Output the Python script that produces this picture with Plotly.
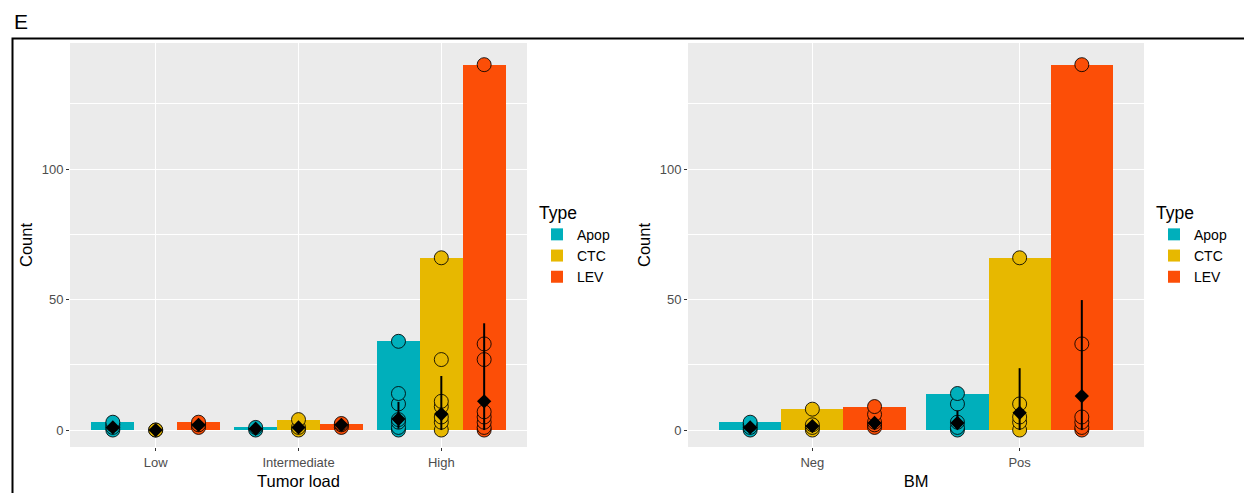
import plotly.graph_objects as go

# ---------------- data ----------------
types = ["Apop", "CTC", "LEV"]
colors = {"Apop": "#00AFBB", "CTC": "#E7B800", "LEV": "#FC4E07"}

# Panel 1: Tumor load
tl_categories = ["Low", "Intermediate", "High"]
tl_bar_apop = [3, 1, 34]
tl_bar_ctc = [0, 4, 66]
tl_bar_lev = [3, 2.5, 140]
tl_pts_apop = [[0, 1, 2, 3], [0, 1], [0, 1, 3, 4, 10, 14, 34]]
tl_pts_ctc = [[0, 0], [0, 1, 4], [0, 3, 5, 9, 11, 27, 66]]
tl_pts_lev = [[1, 2, 3], [1, 2, 2.5], [0, 1, 3, 5, 7, 27, 33, 140]]
tl_mean_apop = [1, 0.5, 4.2]
tl_mean_ctc = [0, 1, 6.1]
tl_mean_lev = [2, 2, 11]
tl_hi_apop = [2, 1, 10.8]
tl_hi_ctc = [0, 2, 20.7]
tl_hi_lev = [3, 2.5, 40.9]
tl_lo_apop = [0.2, 0, 0.5]
tl_lo_ctc = [0, 0, 0]
tl_lo_lev = [1, 1, 0]

# Panel 2: BM
bm_categories = ["Neg", "Pos"]
bm_bar_apop = [3, 14]
bm_bar_ctc = [8, 66]
bm_bar_lev = [9, 140]
bm_pts_apop = [[0, 1, 2, 3], [0, 1, 3, 10, 14]]
bm_pts_ctc = [[0, 1, 2, 8], [0, 3, 5, 10, 66]]
bm_pts_lev = [[1, 2, 3, 6, 9], [0, 1, 3, 5, 33, 140]]
bm_mean_apop = [1, 2.7]
bm_mean_ctc = [1.5, 6.6]
bm_mean_lev = [2.7, 13]
bm_hi_apop = [2, 7.5]
bm_hi_ctc = [2.5, 23.7]
bm_hi_lev = [4, 49.8]
bm_lo_apop = [0.3, 0.5]
bm_lo_ctc = [0.5, 0]
bm_lo_lev = [1, 0]

y_ticks = [0, 50, 100]

# ---------------- figure ----------------
W, H = 1244, 493
fig = go.Figure()

offsets = {"Apop": -0.3, "CTC": 0.0, "LEV": 0.3}
FONT = "Liberation Sans, Arial, sans-serif"


def add_panel(cats, bars, pts, means, his, los, xa, ya, legend):
    xs_base = list(range(1, len(cats) + 1))
    for t in types:
        xb = [x + offsets[t] for x in xs_base]
        fig.add_trace(go.Bar(
            x=xb, y=bars[t], width=0.3, marker=dict(color=colors[t], line=dict(width=0)),
            name=t, xaxis=xa, yaxis=ya, legend=legend, showlegend=True,
        ))
    for t in types:
        px, py = [], []
        for i, vals in enumerate(pts[t]):
            for v in vals:
                px.append(xs_base[i] + offsets[t])
                py.append(v)
        fig.add_trace(go.Scatter(
            x=px, y=py, mode="markers", xaxis=xa, yaxis=ya, showlegend=False,
            marker=dict(size=14, color=colors[t], opacity=1,
                        line=dict(color="rgba(0,0,0,0.85)", width=1)),
            hoverinfo="y",
        ))
    for t in types:
        xm = [x + offsets[t] for x in xs_base]
        m = means[t]
        up = [h - v for h, v in zip(his[t], m)]
        dn = [v - l for v, l in zip(m, los[t])]
        fig.add_trace(go.Scatter(
            x=xm, y=m, mode="markers", xaxis=xa, yaxis=ya, showlegend=False,
            marker=dict(size=11, color="black", symbol="diamond"),
            error_y=dict(type="data", array=up, arrayminus=dn, symmetric=False,
                         color="black", thickness=2, width=0),
        ))


add_panel(tl_categories,
          {"Apop": tl_bar_apop, "CTC": tl_bar_ctc, "LEV": tl_bar_lev},
          {"Apop": tl_pts_apop, "CTC": tl_pts_ctc, "LEV": tl_pts_lev},
          {"Apop": tl_mean_apop, "CTC": tl_mean_ctc, "LEV": tl_mean_lev},
          {"Apop": tl_hi_apop, "CTC": tl_hi_ctc, "LEV": tl_hi_lev},
          {"Apop": tl_lo_apop, "CTC": tl_lo_ctc, "LEV": tl_lo_lev},
          "x", "y", "legend")
add_panel(bm_categories,
          {"Apop": bm_bar_apop, "CTC": bm_bar_ctc, "LEV": bm_bar_lev},
          {"Apop": bm_pts_apop, "CTC": bm_pts_ctc, "LEV": bm_pts_lev},
          {"Apop": bm_mean_apop, "CTC": bm_mean_ctc, "LEV": bm_mean_lev},
          {"Apop": bm_hi_apop, "CTC": bm_hi_ctc, "LEV": bm_hi_lev},
          {"Apop": bm_lo_apop, "CTC": bm_lo_ctc, "LEV": bm_lo_lev},
          "x2", "y2", "legend2")

y_dom = [(H - 447) / H, (H - 43) / H]
y_range = [-6.5, 148.3]

common_x = dict(showgrid=True, gridcolor="white", gridwidth=1.1, zeroline=False,
                ticks="outside", ticklen=3, tickcolor="#333333", tickwidth=1,
                tickfont=dict(family=FONT, size=13, color="#4D4D4D"),
                showline=False, fixedrange=True)
common_y = dict(showgrid=True, gridcolor="white", gridwidth=1.1, zeroline=False,
                ticks="outside", ticklen=3, tickcolor="#333333", tickwidth=1,
                tickfont=dict(family=FONT, size=13, color="#4D4D4D"),
                tickvals=y_ticks, range=y_range, domain=y_dom,
                minor=dict(dtick=25, tick0=0, showgrid=True, gridcolor="white", gridwidth=0.5),
                title=dict(text="Count", font=dict(family=FONT, size=16.5, color="black"), standoff=4),
                showline=False, fixedrange=True)

fig.update_layout(
    width=W, height=H, autosize=False,
    margin=dict(l=0, r=0, t=0, b=0),
    paper_bgcolor="white", plot_bgcolor="#EBEBEB",
    barmode="overlay", bargap=0,
    font=dict(family=FONT),
    xaxis=dict(**common_x, domain=[70 / W, 527 / W], range=[0.4, 3.6],
               tickvals=[1, 2, 3], ticktext=tl_categories, anchor="y",
               title=dict(text="Tumor load", font=dict(family=FONT, size=16.5, color="black"), standoff=6)),
    yaxis=dict(**common_y, anchor="x"),
    xaxis2=dict(**common_x, domain=[688 / W, 1144 / W], range=[0.4, 2.6],
                tickvals=[1, 2], ticktext=bm_categories, anchor="y2",
                title=dict(text="BM", font=dict(family=FONT, size=16.5, color="black"), standoff=6)),
    yaxis2=dict(**common_y, anchor="x2"),
    legend=dict(x=537 / W, y=1 - 196 / H, xanchor="left", yanchor="top",
                title=dict(text="Type", font=dict(family=FONT, size=17.5, color="black")),
                font=dict(family=FONT, size=14, color="black"), bgcolor="rgba(0,0,0,0)",
                itemclick=False, itemdoubleclick=False, tracegroupgap=0),
    legend2=dict(x=1154 / W, y=1 - 196 / H, xanchor="left", yanchor="top",
                 title=dict(text="Type", font=dict(family=FONT, size=17.5, color="black")),
                 font=dict(family=FONT, size=14, color="black"), bgcolor="rgba(0,0,0,0)",
                 itemclick=False, itemdoubleclick=False, tracegroupgap=0),
    annotations=[dict(text="E", x=12 / W, y=1 - 8 / H, xref="paper", yref="paper",
                      xanchor="left", yanchor="top", showarrow=False,
                      font=dict(family=FONT, size=21, color="black"))],
    shapes=[dict(type="rect", xref="paper", yref="paper",
                 x0=12.5 / W, x1=1 + 5 / W, y0=-5 / H, y1=1 - 38.5 / H,
                 line=dict(color="black", width=2), fillcolor="rgba(0,0,0,0)", layer="above")],
)

fig.write_html("out.html", config={"displayModeBar": False},
               post_script="document.body.style.margin='0';document.body.style.overflow='hidden';")
